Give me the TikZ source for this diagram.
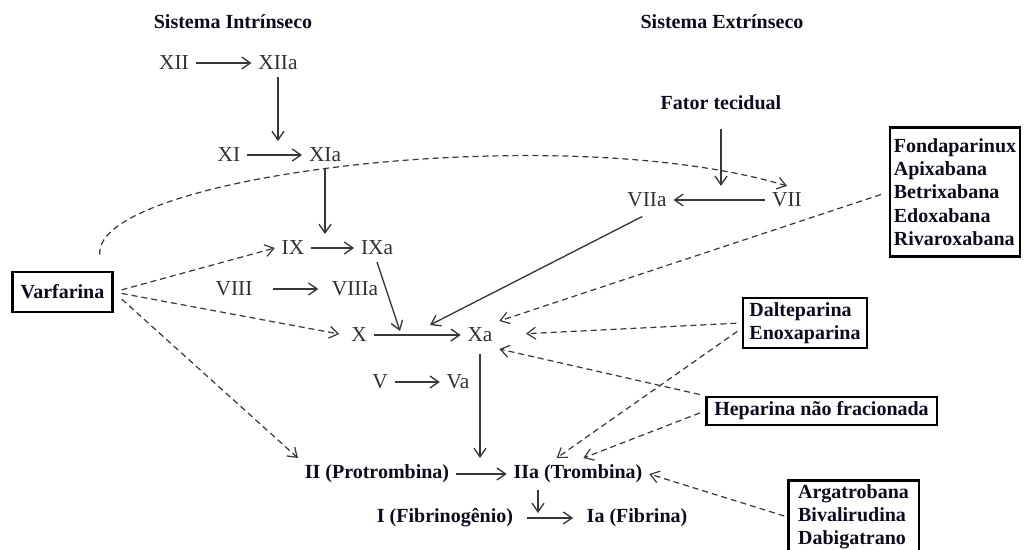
\documentclass[tikz,border=0pt]{standalone}
\usepackage{fontspec}
\setmainfont{Liberation Serif}
\usetikzlibrary{arrows.meta,calc}
\definecolor{LineGray}{RGB}{55,55,55}
\definecolor{FactorGray}{RGB}{50,50,50}
\definecolor{InkNavy}{RGB}{12,12,30}
\tikzset{
  factor/.style={font=\fontsize{16}{18}\selectfont,text=FactorGray,inner sep=5pt},
  title/.style={font=\bfseries\fontsize{15}{17.5}\selectfont,text=InkNavy,inner sep=5pt},
  drugbox/.style={draw=black,line width=2pt,font=\bfseries\fontsize{15}{17.5}\selectfont,
    text=InkNavy,align=left,inner sep=3pt},
  cascade/.style={-{Straight Barb[length=6.5pt,width=9pt]},line width=1pt,LineGray},
  inhib/.style={-{Straight Barb[length=6.5pt,width=9pt]},line width=0.9pt,LineGray,
    dash pattern=on 4.5pt off 3pt}
}
\begin{document}
\begin{tikzpicture}[x=0.75pt,y=-0.75pt]
  \path[fill=white,use as bounding box] (0,0) rectangle (1025,550);
  % headings
  \node[title] (intr) at (233,22) {Sistema Intrínseco};
  \node[title] (extr) at (722,22) {Sistema Extrínseco};
  \node[title] (fator) at (721,103) {Fator tecidual};
  % intrinsic factors
  \node[factor] (XII) at (174,63) {XII};
  \node[factor] (XIIa) at (278,63) {XIIa};
  \node[factor] (XI) at (229,155) {XI};
  \node[factor] (XIa) at (325,155) {XIa};
  \node[factor] (IX) at (293,248) {IX};
  \node[factor] (IXa) at (377,248) {IXa};
  \node[factor] (VIII) at (234,289) {VIII};
  \node[factor] (VIIIa) at (355,289) {VIIIa};
  \node[factor] (X) at (359,335) {X};
  \node[factor] (Xa) at (480,335) {Xa};
  \node[factor] (V) at (380,382) {V};
  \node[factor] (Va) at (458,382) {Va};
  % extrinsic factors
  \node[factor] (VIIa) at (647,200) {VIIa};
  \node[factor] (VII) at (787,200) {VII};
  % common pathway
  \node[title] (II) at (377,474) {II (Protrombina)};
  \node[title] (IIa) at (578,474) {IIa (Trombina)};
  \node[title] (I) at (445,518) {I (Fibrinogênio)};
  \node[title] (Ia) at (637,518) {Ia (Fibrina)};
  % drugs
  \node[drugbox,minimum width=75pt,minimum height=30pt] (varf) at (62.5,292) {Varfarina};
  \node[drugbox,minimum height=97pt] (fonda) at (955,192)
    {Fondaparinux\\Apixabana\\Betrixabana\\Edoxabana\\Rivaroxabana};
  \node[drugbox,minimum width=93pt,minimum height=37.5pt] (dalte) at (805,323)
    {Dalteparina\\Enoxaparina};
  \node[drugbox,minimum width=173pt,minimum height=21pt] (hep) at (821.5,411)
    {Heparina não fracionada};
  \node[drugbox,minimum width=98pt,anchor=north] (arga) at (853.5,479)
    {Argatrobana\\Bivalirudina\\Dabigatrano};
  \coordinate (ixin) at (400,331);
  \coordinate (viiin) at (430,325);

  % cascade
  \draw[cascade] (XII) -- (XIIa);
  \draw[cascade] (XIIa.south) -- (XIIa.south |- XI.north);
  \draw[cascade] (XI) -- (XIa);
  \draw[cascade] (XIa.south) -- (XIa.south |- IX.north);
  \draw[cascade] (IX) -- (IXa);
  \draw[cascade,shorten <=10pt,shorten >=5pt] (VIII) -- (VIIIa);
  \draw[cascade] (IXa.south) -- (ixin);
  \draw[cascade] (X) -- (Xa);
  \draw[cascade] (V) -- (Va);
  \draw[cascade,shorten <=9pt] (fator.south) -- (fator.south |- VII.north);
  \draw[cascade] (VII) -- (VIIa);
  \draw[cascade,shorten <=4pt] (VIIa.south) -- (viiin);
  \draw[cascade,shorten <=4pt] (Xa.south) -- (Xa.south |- II.north);
  \draw[cascade] (II) -- (IIa);
  \draw[cascade] ([xshift=-30pt]IIa.south) -- ++(0,23);
  \draw[cascade,shorten <=5pt,shorten >=5pt] (I) -- (Ia);

  % drug actions
  \draw[inhib] ([xshift=28pt,yshift=12pt]varf.north) .. controls (92,175) and (560,118) .. (VII.north);
  \draw[inhib,shorten <=6pt] (varf.east) -- (IX.west);
  \draw[inhib,shorten <=6pt,shorten >=4pt] (varf.east) -- (X.west);
  \draw[inhib,shorten <=8pt] (varf.east) -- (II.north west);
  \draw[inhib,shorten <=6pt] (fonda.west) -- (Xa.north east);
  \draw[inhib,shorten <=4pt,shorten >=20pt] (dalte.west) -- (Xa.east);
  \draw[inhib,shorten <=4pt] ([yshift=-4pt]dalte.west) -- ([xshift=-16pt]IIa.north);
  \draw[inhib,shorten <=4pt] (hep.north west) -- (Xa.south east);
  \draw[inhib,shorten <=4pt] (hep.west) -- ([xshift=4pt]IIa.north);
  \draw[inhib,shorten <=2pt] (arga.west) -- (IIa.east);
\end{tikzpicture}
\end{document}
